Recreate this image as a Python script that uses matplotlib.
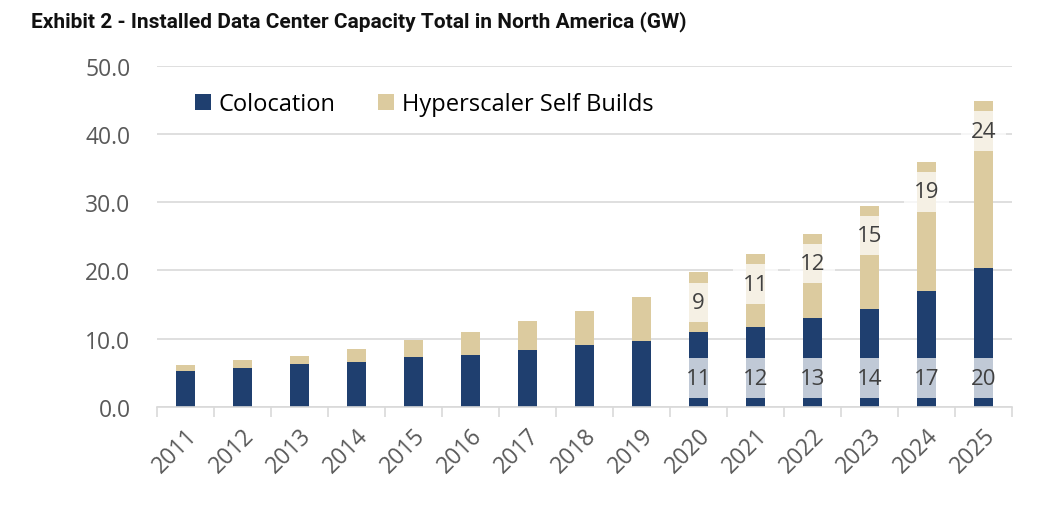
import numpy as np
import matplotlib.pyplot as plt

years = [str(y) for y in range(2011, 2026)]
colocation = [5.3, 5.7, 6.3, 6.6, 7.3, 7.6, 8.4, 9.1, 9.7, 10.9, 11.7, 13.0, 14.4, 17.0, 20.3]
hyperscaler = [0.9, 1.1, 1.2, 1.9, 2.5, 3.4, 4.2, 4.9, 6.4, 8.8, 10.7, 12.4, 15.1, 18.9, 24.5]
coloc_labels = {2020: "11", 2021: "12", 2022: "13", 2023: "14", 2024: "17", 2025: "20"}
hyper_labels = {2020: "9", 2021: "11", 2022: "12", 2023: "15", 2024: "19", 2025: "24"}

navy = "#1f3f6f"
tan = "#dccb9f"

fig = plt.figure(figsize=(10.46, 5.06), dpi=100)
ax = fig.add_axes([0.150, 0.194, 0.8175, 0.674])

x = np.arange(len(years))
ax.bar(x, colocation, width=0.32, color=navy, label="Colocation", zorder=2)
ax.bar(x, hyperscaler, width=0.32, bottom=colocation, color=tan,
       label="Hyperscaler Self Builds", zorder=2)

box = dict(boxstyle="square,pad=0.42", fc="white", ec="none", alpha=0.72)
for i, yr in enumerate(range(2011, 2026)):
    if yr in coloc_labels:
        ax.text(i, 4.2, coloc_labels[yr], ha="center", va="center", fontsize=16,
                family="Open Sans", color="#404040", bbox=box, zorder=3)
    if yr in hyper_labels:
        top = colocation[i] + hyperscaler[i]
        ax.text(i, top - 4.4, hyper_labels[yr], ha="center", va="center", fontsize=16,
                family="Open Sans", color="#404040", bbox=box, zorder=3)

ax.set_ylim(0, 50)
ax.set_xlim(-0.5, len(years) - 0.5)
ax.set_yticks(np.arange(0, 51, 10))
ax.set_yticklabels([f"{v:.1f}" for v in np.arange(0, 51, 10)])
ax.yaxis.grid(True, color="#d9d9d9", lw=1.2, zorder=0)
ax.set_axisbelow(True)

ax.set_xticks(x)
ax.set_xticklabels(years, rotation=45, ha="right", rotation_mode="anchor")
ax.set_xticks(np.arange(-0.5, len(years), 1), minor=True)
ax.tick_params(axis="x", which="major", length=0, pad=12)
ax.tick_params(axis="x", which="minor", length=7, color="#d9d9d9", width=1.2)
ax.tick_params(axis="y", length=0, pad=19)
for lab in ax.get_xticklabels() + ax.get_yticklabels():
    lab.set_family("Open Sans")
    lab.set_fontsize(16.5)
    lab.set_color("#595959")

for s in ["top", "right", "left"]:
    ax.spines[s].set_visible(False)
ax.spines["bottom"].set_color("#d9d9d9")
ax.spines["bottom"].set_linewidth(1.2)

ax.legend(loc="upper left", bbox_to_anchor=(0.02, 0.985), ncol=2, frameon=False,
          prop={"family": "Open Sans", "size": 17}, handlelength=0.65,
          handleheight=0.65, columnspacing=1.8, handletextpad=0.35)

fig.text(0.030, 0.958, "Exhibit 2 - Installed Data Center Capacity Total in North America (GW)",
         ha="left", va="center", fontsize=15, fontweight="bold",
         family=["Liberation Sans Narrow", "Roboto"], color="#111111")

fig.savefig("out.png", dpi=100)
